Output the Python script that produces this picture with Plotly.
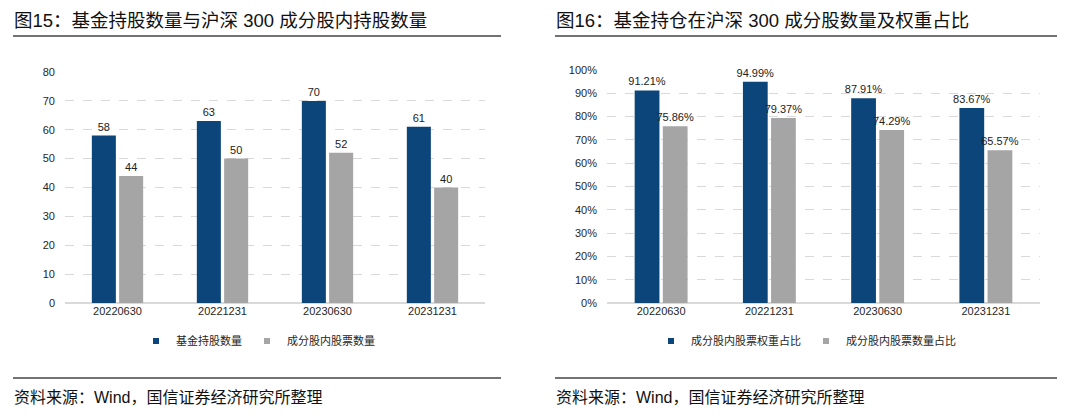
import plotly.graph_objects as go

categories = ["20220630", "20221231", "20230630", "20231231"]
fund_holdings = [58, 63, 70, 61]
constituent_holdings = [44, 50, 52, 40]
weight_ratio = [91.21, 94.99, 87.91, 83.67]
count_ratio = [75.86, 79.37, 74.29, 65.57]

BLUE = "#0B4579"
GRAY = "#A5A5A5"
FONT = "Liberation Sans, Arial, Noto Sans CJK SC, sans-serif"
W, H = 1080, 420

def px_x(x):
    return x / W

def px_y(y):
    return 1 - y / H

fig = go.Figure()

def bar(y, color, xa, ya, tmpl, group):
    return go.Bar(x=categories, y=y, marker_color=color, marker_line_width=0,
                  textposition="outside", texttemplate=tmpl, constraintext="none",
                  textfont=dict(size=11, color="#222"), cliponaxis=False,
                  xaxis=xa, yaxis=ya, offsetgroup=group, showlegend=False)

fig.add_trace(bar(fund_holdings, BLUE, "x", "y", "%{y}", "a"))
fig.add_trace(bar(constituent_holdings, GRAY, "x", "y", "%{y}", "b"))
fig.add_trace(bar(weight_ratio, BLUE, "x2", "y2", "%{y:.2f}%", "a"))
fig.add_trace(bar(count_ratio, GRAY, "x2", "y2", "%{y:.2f}%", "b"))

# legend-only entries with small square swatches
for name, color, lg, xa, ya in (("基金持股数量", BLUE, "legend", "x", "y"),
                                 ("成分股内股票数量", GRAY, "legend", "x", "y"),
                                 ("成分股内股票权重占比", BLUE, "legend2", "x2", "y2"),
                                 ("成分股内股票数量占比", GRAY, "legend2", "x2", "y2")):
    fig.add_trace(go.Scatter(x=[None], y=[None], mode="markers", name=name,
                             marker=dict(symbol="square", size=6, color=color),
                             legend=lg, xaxis=xa, yaxis=ya, showlegend=True))

axis_common = dict(showline=False, ticks="", automargin=False,
                   tickfont=dict(size=11, color="#262626", family=FONT))
grid = dict(showgrid=True, gridcolor="#D9D9D9", griddash="dash", gridwidth=1,
            zeroline=True, zerolinecolor="#D9D9D9", zerolinewidth=1.5,
            ticklabelstandoff=9)

fig.update_layout(
    width=W, height=H,
    margin=dict(l=0, r=0, t=0, b=0, autoexpand=False),
    plot_bgcolor="white", paper_bgcolor="white",
    font=dict(family=FONT, color="#333"),
    barmode="group", bargap=0.48, bargroupgap=0.12,
    xaxis=dict(domain=[px_x(65), px_x(485)], anchor="y", showgrid=False, **axis_common),
    yaxis=dict(domain=[px_y(303), px_y(72)], anchor="x", range=[0, 80], dtick=10,
               **axis_common, **grid),
    xaxis2=dict(domain=[px_x(607), px_x(1040)], anchor="y2", showgrid=False, **axis_common),
    yaxis2=dict(domain=[px_y(303), px_y(70)], anchor="x2", range=[0, 100], dtick=10,
                ticksuffix="%", **axis_common, **grid),
    legend=dict(orientation="h", x=px_x(258), y=px_y(341), xanchor="center", yanchor="middle",
                font=dict(size=11, color="#262626"), itemwidth=30, traceorder="normal"),
    legend2=dict(orientation="h", x=px_x(806), y=px_y(341), xanchor="center", yanchor="middle",
                 font=dict(size=11, color="#262626"), itemwidth=30, traceorder="normal"),
    showlegend=True,
)

# Titles
fig.add_annotation(text="图15：基金持股数量与沪深 300 成分股内持股数量", x=px_x(12), y=px_y(20),
                   xref="paper", yref="paper", xanchor="left", yanchor="middle", showarrow=False,
                   font=dict(size=18.5, color="#111", family=FONT))
fig.add_annotation(text="图16：基金持仓在沪深 300 成分股数量及权重占比", x=px_x(554), y=px_y(20),
                   xref="paper", yref="paper", xanchor="left", yanchor="middle", showarrow=False,
                   font=dict(size=18.5, color="#111", family=FONT))
# Sources
for x0 in (12, 554):
    fig.add_annotation(text="资料来源：Wind，国信证券经济研究所整理", x=px_x(x0), y=px_y(397),
                       xref="paper", yref="paper", xanchor="left", yanchor="middle", showarrow=False,
                       font=dict(size=16, color="#111", family=FONT))

# Rules
for (x0, x1) in ((13, 501), (555, 1057)):
    for yy in (36, 378):
        fig.add_shape(type="line", xref="paper", yref="paper",
                      x0=px_x(x0), x1=px_x(x1), y0=px_y(yy), y1=px_y(yy),
                      line=dict(color="#444", width=1.5))

fig.write_html("out.html", config={"displayModeBar": False},
               post_script="document.body.style.margin='0';")
